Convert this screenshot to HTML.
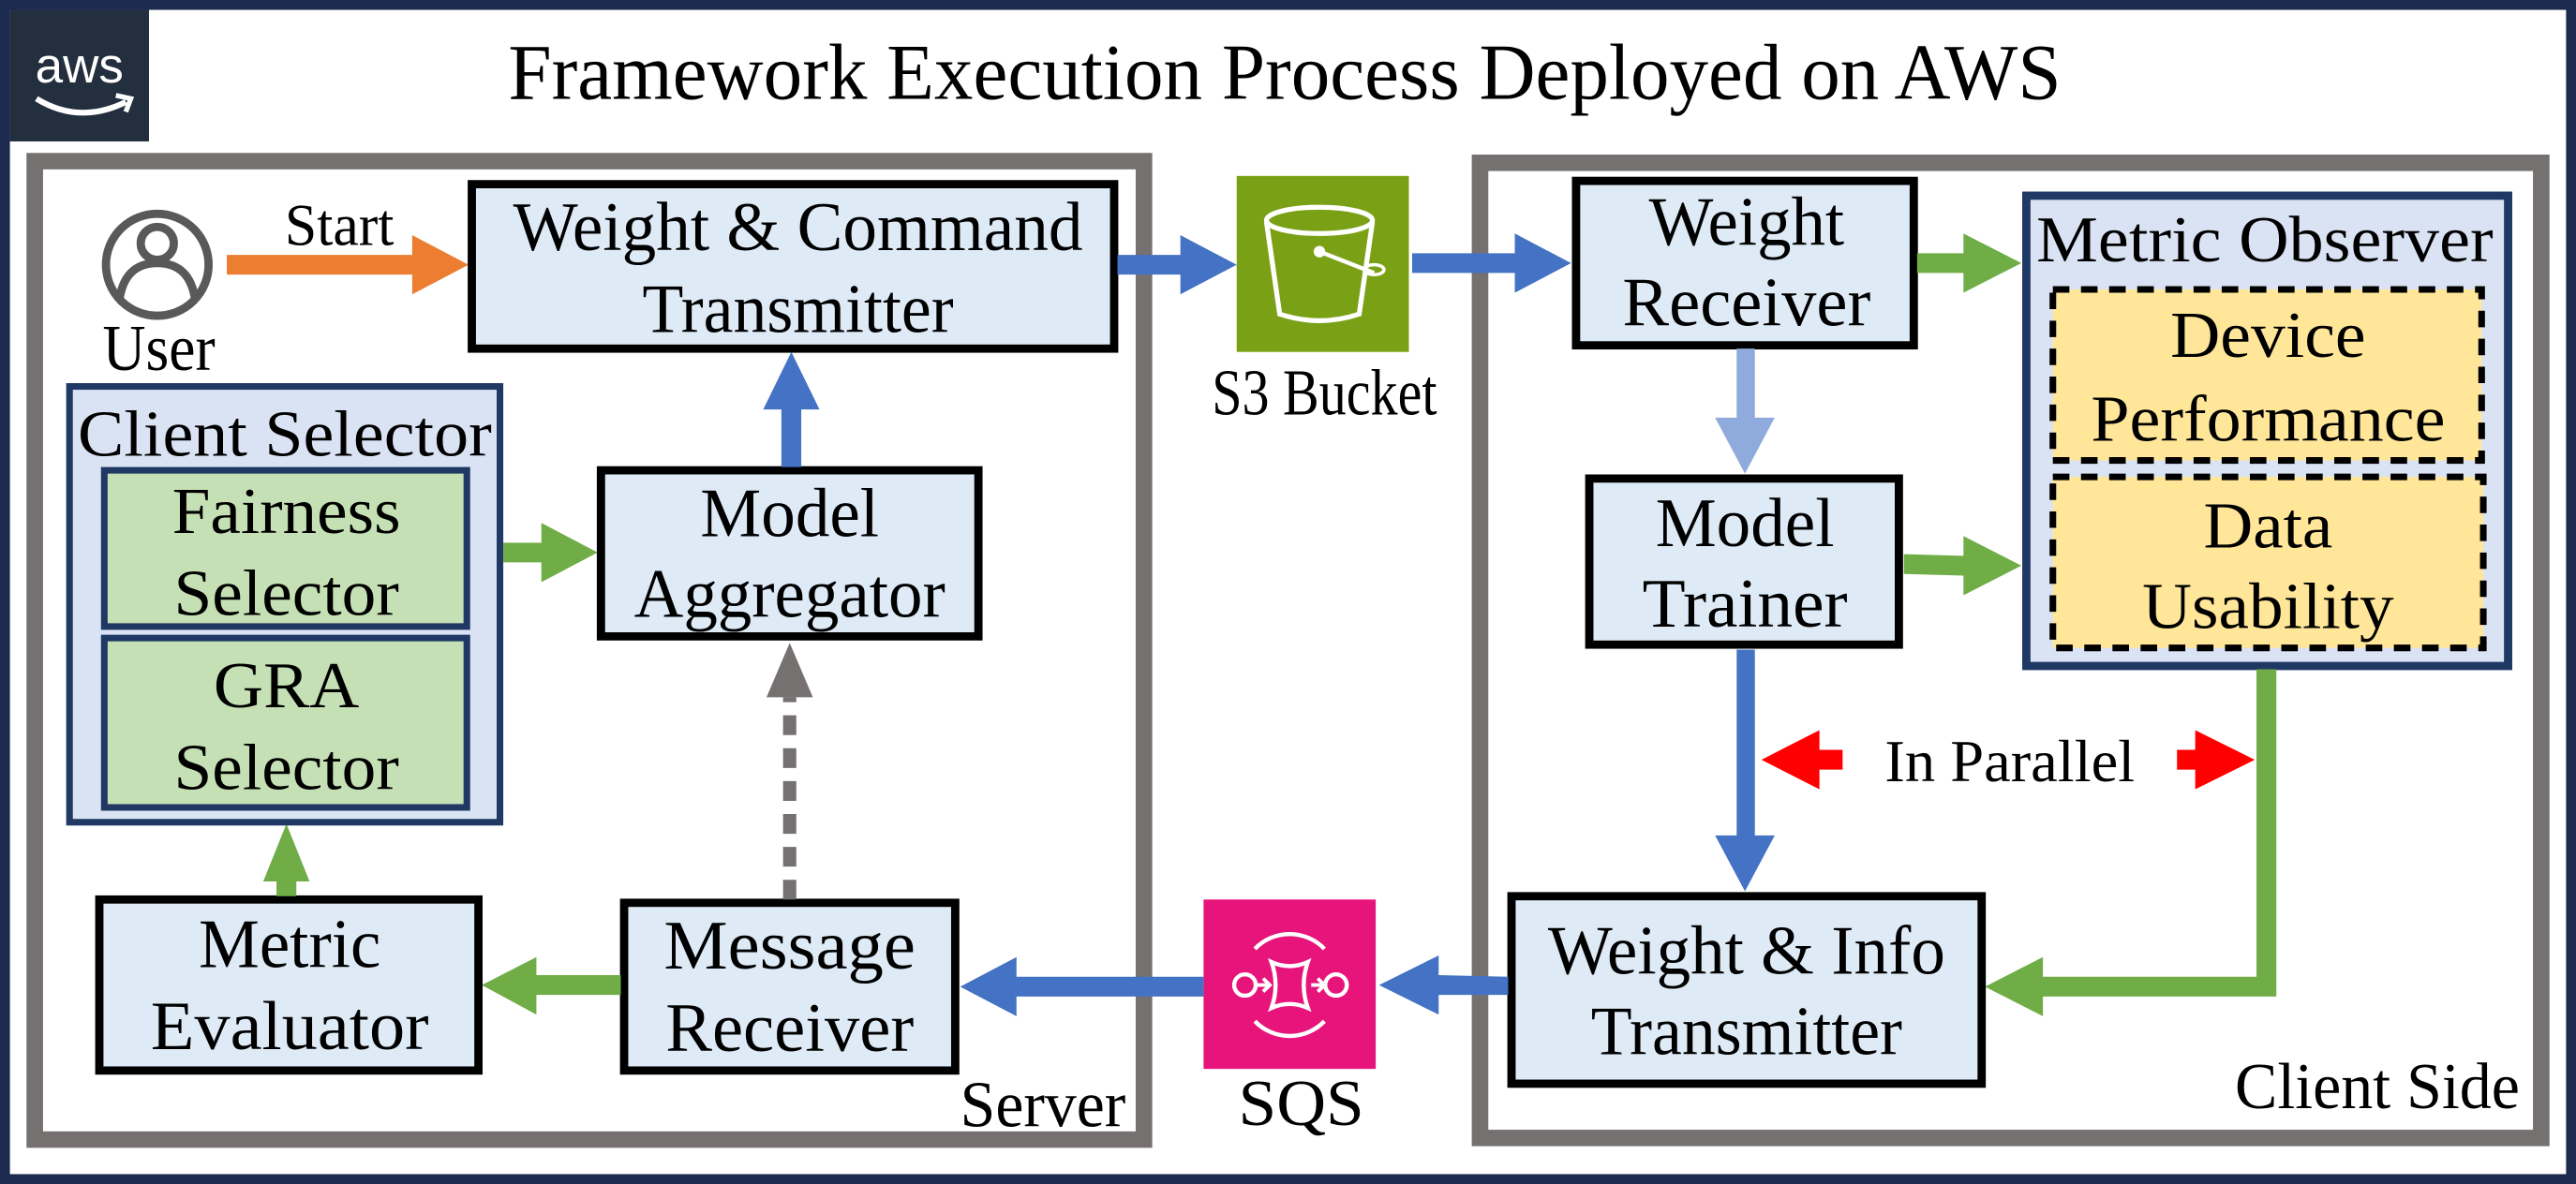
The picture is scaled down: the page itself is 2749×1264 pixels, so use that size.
<!DOCTYPE html>
<html><head><meta charset="utf-8"><style>
html,body{margin:0;padding:0;background:#fff}
svg{display:block}
text{font-family:"Liberation Serif",serif;fill:#000}
text.sans{font-family:"Liberation Sans",sans-serif;fill:#fff}
</style></head><body>
<svg width="2749" height="1264" viewBox="0 0 1556 720" preserveAspectRatio="none" xmlns="http://www.w3.org/2000/svg">
<rect x="0" y="0" width="1556" height="720" fill="#fff"/>
<rect x="3" y="3" width="1550" height="714" fill="none" stroke="#1b2a4e" stroke-width="6"/>
<!-- aws logo -->
<rect x="6" y="6" width="84" height="80" fill="#232f3e"/>
<text class="sans" x="48" y="50" font-size="30" text-anchor="middle">aws</text>
<path d="M22 60 Q48 76 76 62" fill="none" stroke="#fff" stroke-width="3.5"/>
<path d="M70 58 L79 60 L76 68" fill="none" stroke="#fff" stroke-width="3"/>
<text x="776" y="60" font-size="48" text-anchor="middle" textLength="938" lengthAdjust="spacingAndGlyphs">Framework Execution Process Deployed on AWS</text>

<!-- panels -->
<rect x="21" y="98" width="670" height="595" fill="none" stroke="#767171" stroke-width="10"/>
<rect x="894" y="99" width="641" height="593" fill="none" stroke="#767171" stroke-width="10"/>

<!-- user -->
<circle cx="95" cy="161" r="31" fill="none" stroke="#595959" stroke-width="5"/>
<circle cx="95" cy="148" r="10" fill="none" stroke="#595959" stroke-width="5"/>
<path d="M72 183 Q75 160 95 160 Q115 160 118 183" fill="none" stroke="#595959" stroke-width="5"/>
<text x="96" y="225" font-size="40" text-anchor="middle" textLength="68" lengthAdjust="spacingAndGlyphs">User</text>
<text x="205" y="149" font-size="36" text-anchor="middle" textLength="66" lengthAdjust="spacingAndGlyphs">Start</text>
<polygon points="137,155 249,155 249,143 283,161 249,179 249,167 137,167" fill="#ed7d31"/>

<!-- Weight & Command Transmitter -->
<rect x="285" y="112" width="388" height="100" fill="#deebf7" stroke="#000" stroke-width="5"/>
<text x="482" y="152" font-size="42" text-anchor="middle" textLength="344" lengthAdjust="spacingAndGlyphs">Weight &amp; Command</text>
<text x="482" y="202" font-size="42" text-anchor="middle" textLength="188" lengthAdjust="spacingAndGlyphs">Transmitter</text>

<polygon points="675,155 713,155 713,143 747,161 713,179 713,167 675,167" fill="#4472c4"/>
<!-- S3 -->
<rect x="747" y="107" width="104" height="107" fill="#7aa116"/>
<ellipse cx="797" cy="134" rx="32" ry="8" fill="none" stroke="#fff" stroke-width="3"/>
<path d="M765 135 L773 191 Q797 199 821 191 L829 135" fill="none" stroke="#fff" stroke-width="3"/>
<circle cx="797" cy="153" r="3.5" fill="#fff"/>
<path d="M797 153 L830 166" stroke="#fff" stroke-width="2.5"/>
<ellipse cx="830" cy="164" rx="6" ry="3" fill="none" stroke="#fff" stroke-width="2"/>
<text x="800" y="252" font-size="40" text-anchor="middle" textLength="136" lengthAdjust="spacingAndGlyphs">S3 Bucket</text>
<polygon points="853,154 915,154 915,142 949,160 915,178 915,166 853,166" fill="#4472c4"/>

<!-- Weight Receiver -->
<rect x="952" y="110" width="204" height="100" fill="#deebf7" stroke="#000" stroke-width="5"/>
<text x="1055" y="149" font-size="42" text-anchor="middle" textLength="118" lengthAdjust="spacingAndGlyphs">Weight</text>
<text x="1055" y="198" font-size="42" text-anchor="middle" textLength="150" lengthAdjust="spacingAndGlyphs">Receiver</text>
<polygon points="1158,154 1186,154 1186,142 1221,160 1186,178 1186,166 1158,166" fill="#70ad47"/>

<!-- Metric Observer -->
<rect x="1224" y="119" width="291" height="286" fill="#dae3f3" stroke="#1f3864" stroke-width="5"/>
<text x="1368" y="159" font-size="40" text-anchor="middle" textLength="276" lengthAdjust="spacingAndGlyphs">Metric Observer</text>
<rect x="1240" y="176" width="259" height="104" fill="#ffe699" stroke="#000" stroke-width="4" stroke-dasharray="10,7"/>
<text x="1370" y="217" font-size="40" text-anchor="middle" textLength="118" lengthAdjust="spacingAndGlyphs">Device</text>
<text x="1370" y="268" font-size="40" text-anchor="middle" textLength="214" lengthAdjust="spacingAndGlyphs">Performance</text>
<rect x="1240" y="290" width="260" height="104" fill="#ffe699" stroke="#000" stroke-width="4" stroke-dasharray="10,7"/>
<text x="1370" y="333" font-size="40" text-anchor="middle" textLength="78" lengthAdjust="spacingAndGlyphs">Data</text>
<text x="1370" y="382" font-size="40" text-anchor="middle" textLength="152" lengthAdjust="spacingAndGlyphs">Usability</text>

<polygon points="1049,212 1060,212 1060,254 1072,254 1054,288 1036,254 1049,254" fill="#8faadc"/>
<!-- Model Trainer -->
<rect x="960" y="291" width="187" height="101" fill="#deebf7" stroke="#000" stroke-width="5"/>
<text x="1054" y="332" font-size="42" text-anchor="middle" textLength="108" lengthAdjust="spacingAndGlyphs">Model</text>
<text x="1054" y="381" font-size="42" text-anchor="middle" textLength="124" lengthAdjust="spacingAndGlyphs">Trainer</text>
<polygon points="1150,337 1186,338 1186,326 1221,344 1186,362 1186,350 1150,349" fill="#70ad47"/>
<polygon points="1049,395 1060,395 1060,508 1072,508 1054,542 1036,508 1049,508" fill="#4472c4"/>
<!-- red arrows -->
<polygon points="1064,462 1099,444 1099,456 1113,456 1113,468 1099,468 1099,480" fill="#ff0000"/>
<polygon points="1362,462 1326,444 1326,456 1315,456 1315,468 1326,468 1326,480" fill="#ff0000"/>
<text x="1214" y="475" font-size="36" text-anchor="middle" textLength="151" lengthAdjust="spacingAndGlyphs">In Parallel</text>
<polygon points="1363,407 1375,407 1375,606 1234,606 1234,618 1199,600 1234,582 1234,594 1363,594" fill="#70ad47"/>

<!-- Weight & Info Transmitter -->
<rect x="913" y="545" width="284" height="114" fill="#deebf7" stroke="#000" stroke-width="5"/>
<text x="1055" y="592" font-size="42" text-anchor="middle" textLength="240" lengthAdjust="spacingAndGlyphs">Weight &amp; Info</text>
<text x="1055" y="641" font-size="42" text-anchor="middle" textLength="188" lengthAdjust="spacingAndGlyphs">Transmitter</text>
<text x="1436" y="674" font-size="40" text-anchor="middle" textLength="172" lengthAdjust="spacingAndGlyphs">Client Side</text>
<polygon points="911,594 869,593 869,581 833,599 869,617 869,605 911,605" fill="#4472c4"/>

<!-- SQS -->
<rect x="727" y="547" width="104" height="103" fill="#e7157b"/>
<path d="M758 577 A29 29 0 0 1 800 577" fill="none" stroke="#fff" stroke-width="2.5"/>
<path d="M758 621 A29 29 0 0 0 800 621" fill="none" stroke="#fff" stroke-width="2.5"/>
<circle cx="752" cy="599" r="6.5" fill="none" stroke="#fff" stroke-width="2.5"/>
<circle cx="807" cy="599" r="6.5" fill="none" stroke="#fff" stroke-width="2.5"/>
<path d="M768 585 Q779 590 790 585 Q785 599 790 613 Q779 608 768 613 Q773 599 768 585 Z" fill="none" stroke="#fff" stroke-width="2.5"/>
<path d="M759 599 H766 M763 595 L767 599 L763 603 M792 599 H799 M796 595 L800 599 L796 603" fill="none" stroke="#fff" stroke-width="2.2"/>
<text x="786" y="684" font-size="40" text-anchor="middle" textLength="76" lengthAdjust="spacingAndGlyphs">SQS</text>
<polygon points="727,594 614,594 614,582 580,600 614,618 614,606 727,606" fill="#4472c4"/>

<!-- Message Receiver -->
<rect x="377" y="549" width="200" height="102" fill="#deebf7" stroke="#000" stroke-width="5"/>
<text x="477" y="589" font-size="42" text-anchor="middle" textLength="152" lengthAdjust="spacingAndGlyphs">Message</text>
<text x="477" y="639" font-size="42" text-anchor="middle" textLength="150" lengthAdjust="spacingAndGlyphs">Receiver</text>
<text x="630" y="685" font-size="40" text-anchor="middle" textLength="100" lengthAdjust="spacingAndGlyphs">Server</text>
<line x1="477" y1="547" x2="477" y2="424" stroke="#767171" stroke-width="8" stroke-dasharray="12,8"/>
<polygon points="463,424 491,424 477,391" fill="#767171"/>
<polygon points="375,593 324,593 324,582 291,599 324,617 324,605 375,605" fill="#70ad47"/>

<!-- Metric Evaluator -->
<rect x="60" y="547" width="229" height="104" fill="#deebf7" stroke="#000" stroke-width="5"/>
<text x="175" y="588" font-size="42" text-anchor="middle" textLength="110" lengthAdjust="spacingAndGlyphs">Metric</text>
<text x="175" y="638" font-size="42" text-anchor="middle" textLength="168" lengthAdjust="spacingAndGlyphs">Evaluator</text>
<polygon points="167,545 179,545 179,536 187,536 173,501 159,536 167,536" fill="#70ad47"/>

<!-- Client Selector -->
<rect x="42" y="235" width="260" height="265" fill="#dae3f3" stroke="#1f3864" stroke-width="4"/>
<text x="172" y="277" font-size="40" text-anchor="middle" textLength="250" lengthAdjust="spacingAndGlyphs">Client Selector</text>
<rect x="63" y="286" width="219" height="95" fill="#c5e0b4" stroke="#1f3864" stroke-width="4"/>
<text x="173" y="324" font-size="40" text-anchor="middle" textLength="138" lengthAdjust="spacingAndGlyphs">Fairness</text>
<text x="173" y="374" font-size="40" text-anchor="middle" textLength="136" lengthAdjust="spacingAndGlyphs">Selector</text>
<rect x="63" y="388" width="219" height="103" fill="#c5e0b4" stroke="#1f3864" stroke-width="4"/>
<text x="173" y="430" font-size="40" text-anchor="middle" textLength="88" lengthAdjust="spacingAndGlyphs">GRA</text>
<text x="173" y="480" font-size="40" text-anchor="middle" textLength="136" lengthAdjust="spacingAndGlyphs">Selector</text>
<polygon points="304,330 327,330 327,318 361,336 327,354 327,342 304,342" fill="#70ad47"/>

<!-- Model Aggregator -->
<rect x="363" y="286" width="228" height="101" fill="#deebf7" stroke="#000" stroke-width="5"/>
<text x="477" y="326" font-size="42" text-anchor="middle" textLength="108" lengthAdjust="spacingAndGlyphs">Model</text>
<text x="477" y="375" font-size="42" text-anchor="middle" textLength="188" lengthAdjust="spacingAndGlyphs">Aggregator</text>
<polygon points="472,284 484,284 484,249 495,249 478,214 461,249 472,249" fill="#4472c4"/>
</svg>
</body></html>
